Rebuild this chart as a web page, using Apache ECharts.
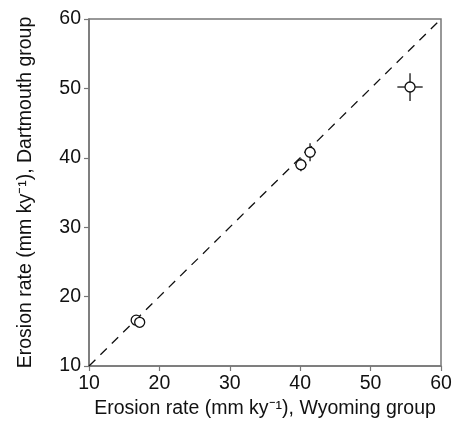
<!DOCTYPE html>
<html>
<head>
<meta charset="utf-8">
<script src="https://cdn.jsdelivr.net/npm/echarts@6/dist/echarts.min.js"></script>
<style>
  html, body { margin: 0; padding: 0; background: #fff; }
  #main { width: 469px; height: 428px; }
</style>
</head>
<body>
<div id="main"></div>
<script>
// erosion rates, mm/ky
const wyoming = [16.7, 17.2, 40.1, 41.4, 55.6]
const dartmouth = [16.6, 16.3, 39.0, 40.8, 50.2]
const wyomingErr = [0.3, 0.3, 0.8, 0.85, 1.8]
const dartmouthErr = [0.3, 0.3, 0.95, 1.3, 2.0]
const oneToOne = [[10, 10], [60, 60]]
const ticks = [10, 20, 30, 40, 50, 60]

const points = wyoming.map((x, i) => [x, dartmouth[i], wyomingErr[i], dartmouthErr[i]])

function errorBars(params, api) {
  const x = api.value(0)
  const y = api.value(1)
  const ex = api.value(2)
  const ey = api.value(3)
  const left = api.coord([x - ex, y])
  const right = api.coord([x + ex, y])
  const top = api.coord([x, y + ey])
  const bottom = api.coord([x, y - ey])
  const style = { stroke: '#333', lineWidth: 1.5 }
  return {
    type: 'group',
    children: [
      { type: 'line', shape: { x1: left[0], y1: left[1], x2: right[0], y2: right[1] }, style: style },
      { type: 'line', shape: { x1: top[0], y1: top[1], x2: bottom[0], y2: bottom[1] }, style: style }
    ]
  }
}

const axisCommon = {
  type: 'value',
  min: ticks[0],
  max: ticks[ticks.length - 1],
  interval: 10,
  nameLocation: 'middle',
  nameTextStyle: { fontFamily: 'Liberation Sans', fontSize: 19.5, color: '#111' },
  axisLine: { show: true, lineStyle: { color: '#777', width: 1.5 } },
  axisTick: { show: true, inside: false, length: 5, lineStyle: { color: '#777', width: 1.2 } },
  axisLabel: { fontFamily: 'Liberation Sans', fontSize: 19.5, color: '#111', margin: 8 },
  splitLine: { show: false }
}

const chart = echarts.init(document.getElementById('main'))
chart.setOption({
  animation: false,
  grid: {
    left: 89, right: 28, top: 19, bottom: 62,
    show: true, borderColor: '#777', borderWidth: 1.5, backgroundColor: '#fff'
  },
  xAxis: Object.assign({}, axisCommon, {
    name: 'Erosion rate (mm ky⁻¹), Wyoming group',
    nameGap: 33
  }),
  yAxis: Object.assign({}, axisCommon, {
    name: 'Erosion rate (mm ky⁻¹), Dartmouth group',
    nameGap: 53
  }),
  series: [
    {
      type: 'line',
      data: oneToOne,
      symbol: 'none',
      silent: true,
      lineStyle: { color: '#111', width: 1.3, type: [9, 7] },
      z: 1
    },
    {
      type: 'custom',
      renderItem: errorBars,
      data: points,
      encode: { x: 0, y: 1 },
      z: 2
    },
    {
      type: 'scatter',
      data: points,
      symbol: 'circle',
      symbolSize: 10,
      itemStyle: { color: '#fff', borderColor: '#111', borderWidth: 1.3, opacity: 1 },
      z: 3
    }
  ]
})
</script>
</body>
</html>
